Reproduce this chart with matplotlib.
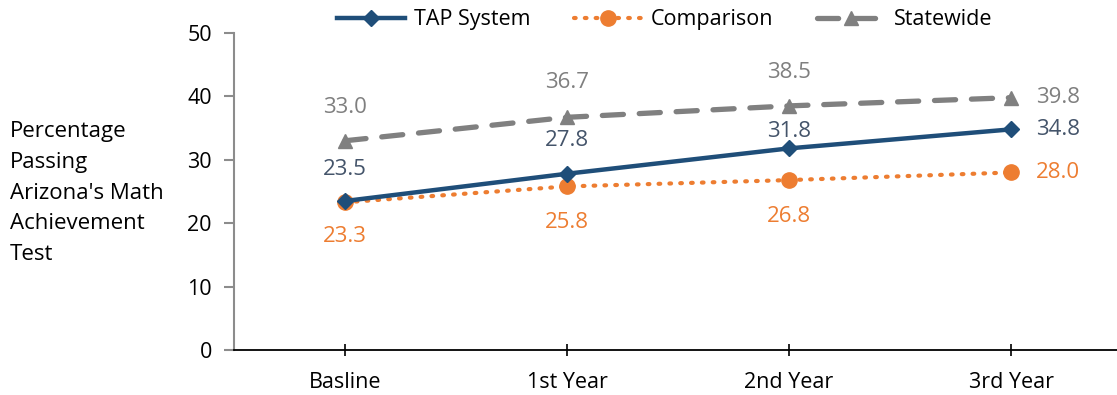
import matplotlib.pyplot as plt

plt.rcParams['font.family'] = ['Open Sans', 'DejaVu Sans']

periods = ["Basline", "1st Year", "2nd Year", "3rd Year"]
tap = [23.5, 27.8, 31.8, 34.8]
comparison = [23.3, 25.8, 26.8, 28.0]
statewide = [33.0, 36.7, 38.5, 39.8]

blue = "#1F4E79"
orange = "#ED7D31"
gray = "#808080"

fig = plt.figure(figsize=(11.17, 3.95), dpi=100)
ax = fig.add_axes([0.2095, 0.1139, 0.795, 0.8026])

x = list(range(len(periods)))
ax.plot(x, tap, color=blue, lw=3.2, marker="D", ms=8, label="TAP System", zorder=4)
ax.plot(x, comparison, color=orange, lw=3.0, ls=(0, (0.4, 2.2)), dash_capstyle="round",
        marker="o", ms=11, label="Comparison", zorder=3)
ax.plot(x, statewide, color=gray, lw=3.8, ls=(0, (4, 3.0)), dash_capstyle="round",
        marker="^", ms=10, label="Statewide", zorder=2)

# value labels: vertical offsets (pt) for the first three points, last one sits to the right
def label_series(vals, color, offsets):
    for i, v in enumerate(vals):
        if i < len(vals) - 1:
            xy = (0, offsets[i])
        else:
            xy = (34, 0)
        ax.annotate(f"{v:.1f}", (i, v), xytext=xy, textcoords="offset points",
                    ha="center", va="center", color=color, fontsize=16)

label_series(tap, "#44546A", [23, 24, 12])
label_series(comparison, orange, [-25, -26, -26])
label_series(statewide, "#7F7F7F", [24, 25, 24])

ax.set_xlim(-0.5, 3.5)
ax.set_ylim(0, 50)
ax.set_yticks(range(0, 51, 10))
ax.set_xticks(x)
ax.set_xticklabels(periods)
ax.tick_params(axis="y", labelsize=15.5, colors="#8C8C8C", labelcolor="black",
               length=7, width=1.5, pad=9)
ax.tick_params(axis="x", labelsize=15.5, colors="black", direction="inout",
               length=8, width=1.2, pad=12)
for side in ["top", "right"]:
    ax.spines[side].set_visible(False)
ax.spines["left"].set_color("#8C8C8C")
ax.spines["left"].set_linewidth(1.5)
ax.spines["bottom"].set_color("black")
ax.spines["bottom"].set_linewidth(1.3)

fig.text(0.009, 0.511, "Percentage\nPassing\nArizona's Math\nAchievement\nTest",
         ha="left", va="center", fontsize=16, linespacing=1.6)

fig.legend(loc="center", bbox_to_anchor=(0.595, 0.95), ncol=3, frameon=False,
           fontsize=15.5, handlelength=3.2, columnspacing=2.0, handletextpad=0.4)

plt.savefig("out.png", dpi=100)
plt.close()
